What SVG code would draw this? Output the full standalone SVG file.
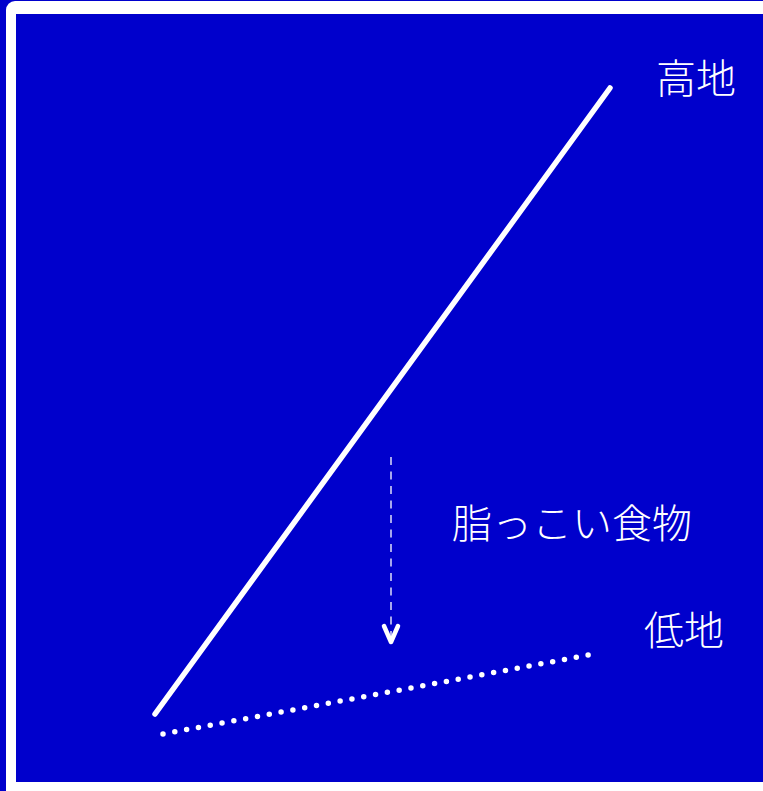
<svg xmlns="http://www.w3.org/2000/svg" width="763" height="791" viewBox="0 0 763 791">
  <style>
    .lbl { font-family: "Noto Sans CJK JP", "Noto Sans CJK SC", sans-serif; font-size: 40px; fill: #ffffff; font-weight: 300; }
  </style>
  <rect x="0" y="0" width="763" height="791" fill="#0000cc"/>
  <rect id="frame" x="6" y="1" width="780" height="800" rx="9" fill="#ffffff"/>
  <rect x="16" y="14" width="760" height="768" fill="#0000cc"/>

  <g id="connectors">
    <line id="high-slope" x1="155" y1="714" x2="610" y2="88" stroke="#ffffff" stroke-width="5.5" stroke-linecap="round"/>
    <line id="low-slope" x1="163" y1="734" x2="588.5" y2="655" stroke="#ffffff" stroke-width="5.5" stroke-linecap="round" stroke-dasharray="0 12.01"/>
    <line id="arrow" x1="391" y1="457" x2="391" y2="640" stroke="#ffffff" stroke-width="1.3" stroke-dasharray="8 6.5"/>
    <path d="M384,626 L391,642 L398,626" fill="none" stroke="#ffffff" stroke-width="4.5" stroke-linecap="round" stroke-linejoin="round"/>
  </g>

  <g id="node-high">
    <text class="lbl" x="656" y="93">高地</text>
  </g>
  <g id="node-food">
    <text class="lbl" x="452" y="538">脂っこい食物</text>
  </g>
  <g id="node-low">
    <text class="lbl" x="644" y="645">低地</text>
  </g>
</svg>
